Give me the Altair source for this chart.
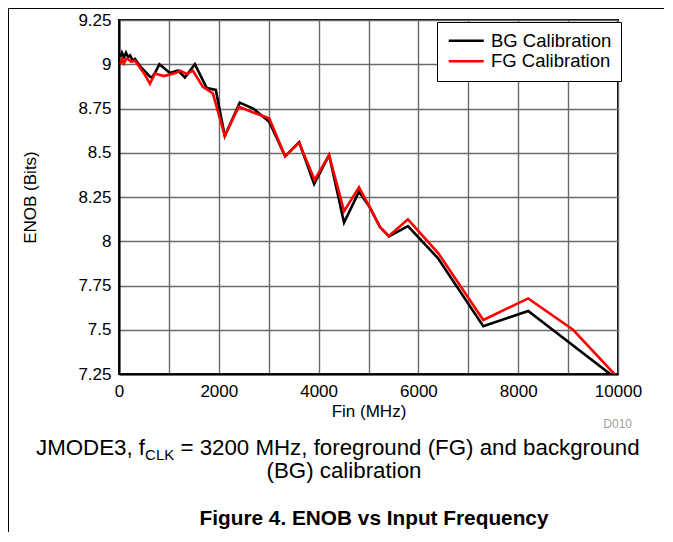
import altair as alt
import pandas as pd

# ---- data ----
bg_freq = [30, 60, 100, 140, 180, 220, 280, 320, 420, 520, 620, 660, 720, 810, 1020, 1180, 1320, 1520,
           1760, 1940, 2120, 2420, 2690, 3010, 3330, 3610, 3910, 4210, 4510, 4810, 5030, 5230, 5410,
           5790, 6390, 7300, 8200, 10000]
bg_enob = [9.04, 9.065, 9.04, 9.065, 9.04, 9.05, 9.02, 9.03, 8.99, 8.96, 8.93, 8.925, 8.95, 9.0, 8.95, 8.965,
           8.925, 9.0, 8.865, 8.855, 8.595, 8.783, 8.75, 8.675, 8.48, 8.56, 8.323, 8.487, 8.105, 8.28, 8.19,
           8.08, 8.028, 8.085, 7.905, 7.52, 7.606, 7.216]
fg_freq = [30, 60, 100, 140, 180, 240, 320, 420, 520, 620, 720, 900, 1150, 1230, 1350, 1480, 1680, 1880,
           2120, 2400, 2760, 3010, 3330, 3610, 3920, 4210, 4510, 4810, 5030, 5230, 5410, 5790, 6400, 7300,
           8200, 9100, 10000]
fg_enob = [9.0, 9.03, 9.005, 9.03, 9.03, 9.015, 9.02, 8.98, 8.94, 8.89, 8.948, 8.933, 8.952, 8.964, 8.945,
           8.964, 8.873, 8.836, 8.595, 8.76, 8.72, 8.695, 8.48, 8.557, 8.346, 8.487, 8.17, 8.305, 8.19, 8.08,
           8.03, 8.124, 7.932, 7.555, 7.677, 7.5, 7.228]
series_names = ["BG Calibration", "FG Calibration"]
series_colors = ["#000000", "#ff0000"]
x_ticks = list(range(0, 10001, 1000))
y_ticks = [7.25, 7.5, 7.75, 8.0, 8.25, 8.5, 8.75, 9.0, 9.25]

df = pd.concat([
    pd.DataFrame({"freq": bg_freq, "enob": bg_enob, "series": series_names[0]}),
    pd.DataFrame({"freq": fg_freq, "enob": fg_enob, "series": series_names[1]}),
])

W, H = 499, 354
FONT = "Liberation Sans"

lines = alt.Chart(df).mark_line(strokeWidth=2.6, clip=True).encode(
    x=alt.X("freq:Q", scale=alt.Scale(domain=[0, 10000], nice=False, zero=False),
            axis=alt.Axis(values=x_ticks, format="d", labelFlush=False,
                          labelExpr="datum.value % 2000 === 0 ? datum.label : ''",
                          title="Fin (MHz)", titleX=W / 2, titleY=37, titleBaseline="middle",
                          labelPadding=9)),
    y=alt.Y("enob:Q", scale=alt.Scale(domain=[7.25, 9.25], nice=False, zero=False),
            axis=alt.Axis(values=y_ticks, format=".3~g", title="ENOB (Bits)", labelFlush=False,
                          titleX=-89, titleY=H / 2, titleAngle=270, titleBaseline="middle",
                          titleAlign="center", labelPadding=8)),
    color=alt.Color("series:N", scale=alt.Scale(domain=series_names, range=series_colors),
                    legend=alt.Legend(title=None, orient="none", legendX=318, legendY=2,
                                      strokeColor="black", fillColor="white", padding=9.5,
                                      symbolType="M-1,0H4", symbolSize=196, symbolStrokeWidth=2.5,
                                      labelFontSize=18.5, labelFont=FONT, labelColor="black",
                                      labelOffset=26, rowPadding=1.5)),
    order=alt.Order("freq:Q"),
)

one = pd.DataFrame({"a": [0]})


def txt(s, x, y, size, align="left", weight="normal", color="black"):
    return alt.Chart(one).mark_text(font=FONT, fontSize=size, align=align, baseline="alphabetic",
                                    fontWeight=weight, color=color).encode(
        x=alt.value(x), y=alt.value(y), text=alt.value(s))


frame_left = alt.Chart(one).mark_rule(color="black", strokeWidth=1).encode(
    x=alt.value(-110.5), y=alt.value(-11.5), y2=alt.value(H + 160))
frame_top = alt.Chart(one).mark_rule(color="black", strokeWidth=1).encode(
    x=alt.value(-110.5), x2=alt.value(W + 60), y=alt.value(-11.5))

cap = 22.3
x0 = -83
sub = 15
caption = [
    txt("JMODE3, f", x0, 435, cap),
    txt("CLK", x0 + 4.89 * cap, 440, sub),
    txt("= 3200 MHz, foreground (FG) and background", x0 + 4.89 * cap + 1.945 * sub + 0.278 * cap, 435, cap),
    txt("(BG) calibration", 225, 458, cap, align="center"),
    txt("Figure 4. ENOB vs Input Frequency", 255, 505, 20.8, align="center", weight="bold"),
    txt("D010", 513, 408, 12, align="right", color="#a0a0a0"),
]

chart = alt.layer(lines, frame_left, frame_top, *caption).properties(
    width=W, height=H,
    autosize=alt.AutoSizeParams(type="none"),
    padding={"left": 111, "top": 12, "right": 46, "bottom": 158},
    background="white",
).configure_view(stroke="black", strokeWidth=2).configure_axis(
    domainColor="black", domainWidth=2, gridColor="#6a6a6a", gridWidth=1.4, gridOpacity=1,
    ticks=False, labelFont=FONT, labelFontSize=17, labelColor="black",
    titleFont=FONT, titleFontSize=17, titleFontWeight="normal", titleColor="black",
)

chart.save("out.html", embed_options={"renderer": "svg", "actions": False})
